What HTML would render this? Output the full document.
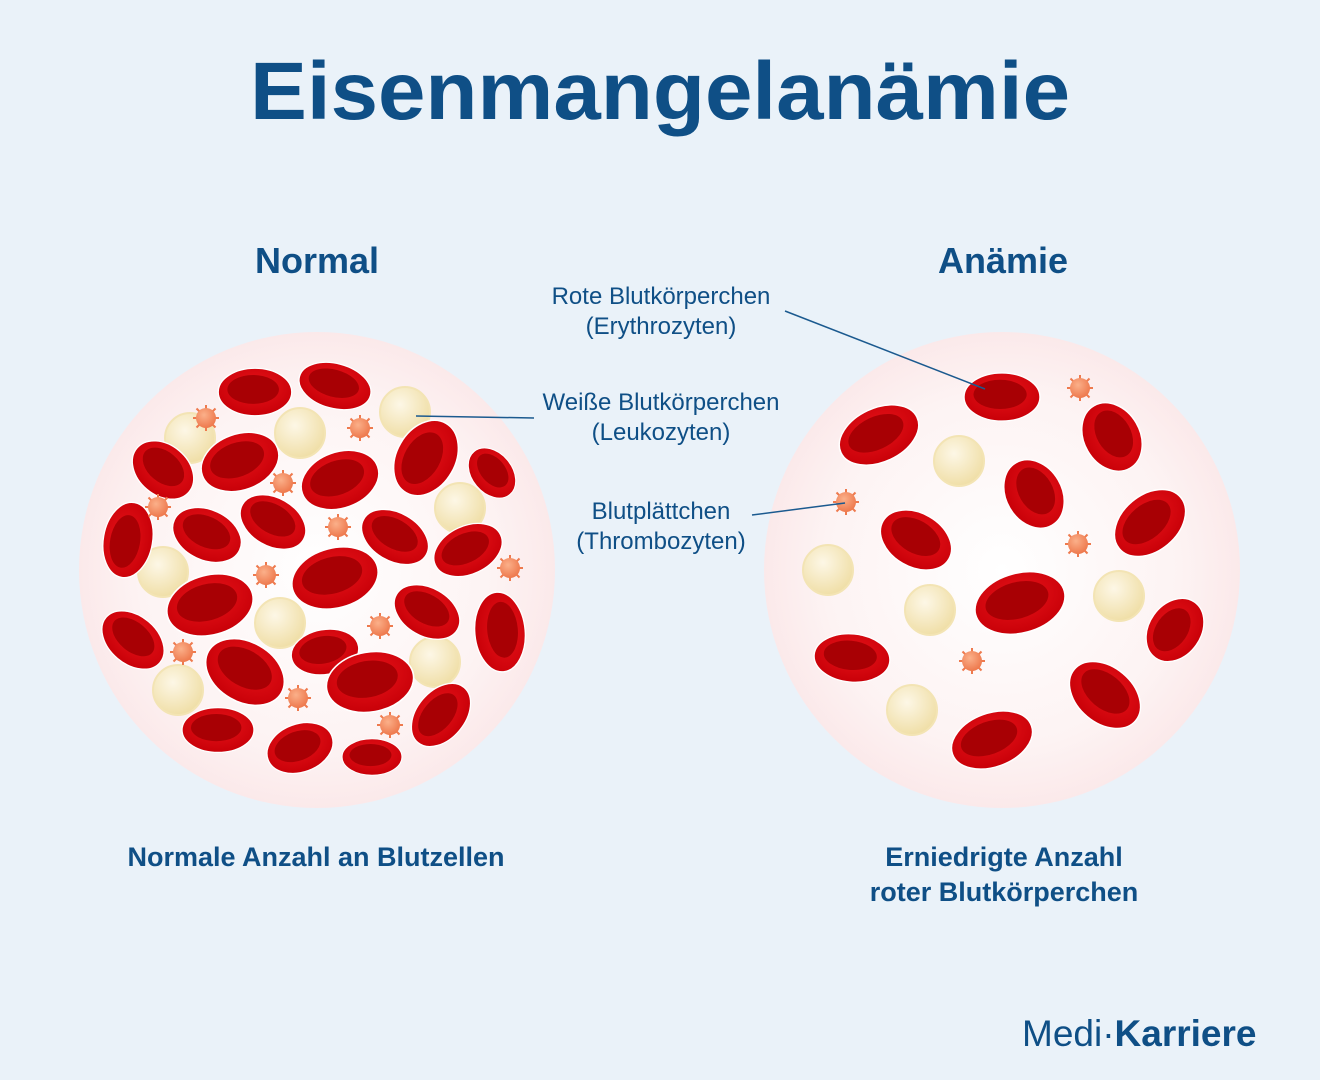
<!DOCTYPE html>
<html><head><meta charset="utf-8"><style>
body{margin:0;background:#eaf2f9;}
svg{display:block}
text{font-family:"Liberation Sans",sans-serif;fill:#0f4f86}
</style></head><body>
<svg width="1320" height="1080" viewBox="0 0 1320 1080" xmlns="http://www.w3.org/2000/svg">
<defs>
<radialGradient id="bg" cx="50%" cy="50%" r="50%"><stop offset="0" stop-color="#ffffff"/><stop offset="0.75" stop-color="#fdf3f3"/><stop offset="1" stop-color="#fbe9ea"/></radialGradient>
<radialGradient id="rb" cx="50%" cy="40%" r="60%"><stop offset="0" stop-color="#e8141a"/><stop offset="1" stop-color="#c80008"/></radialGradient>
<radialGradient id="wb" cx="40%" cy="35%" r="65%"><stop offset="0" stop-color="#fdf7e6"/><stop offset="1" stop-color="#f0dfa8"/></radialGradient>
<radialGradient id="pl" cx="40%" cy="35%" r="65%"><stop offset="0" stop-color="#fbb08a"/><stop offset="1" stop-color="#ee7a4e"/></radialGradient>
<g id="r"><ellipse rx="40" ry="28" fill="url(#rb)" stroke="#fff" stroke-width="1.5"/><ellipse cx="-2" cy="-3" rx="28" ry="17" fill="#a80004"/></g>
<g id="w"><circle r="25" fill="url(#wb)" stroke="#f3e4b4" stroke-width="2"/></g>
<g id="p"><g stroke="#ee7a4e" stroke-width="2"><line x1="-13" y1="0" x2="13" y2="0"/><line x1="0" y1="-13" x2="0" y2="13"/><line x1="-9.5" y1="-9.5" x2="9.5" y2="9.5"/><line x1="-9.5" y1="9.5" x2="9.5" y2="-9.5"/></g><circle r="10" fill="url(#pl)"/></g>
</defs>
<text x="660" y="119" text-anchor="middle" font-size="82" font-weight="bold" textLength="820" lengthAdjust="spacingAndGlyphs">Eisenmangelanämie</text>
<text x="317" y="273" text-anchor="middle" font-size="36" font-weight="bold">Normal</text>
<text x="1003" y="273" text-anchor="middle" font-size="36" font-weight="bold">Anämie</text>
<circle cx="317" cy="570" r="238" fill="url(#bg)"/>
<circle cx="1002" cy="570" r="238" fill="url(#bg)"/>
<g>
<use href="#w" x="405" y="412"/><use href="#w" x="300" y="433"/><use href="#w" x="190" y="438"/><use href="#w" x="460" y="508"/><use href="#w" x="163" y="572"/><use href="#w" x="280" y="623"/><use href="#w" x="435" y="662"/><use href="#w" x="178" y="690"/>
</g>
<g>
<use href="#r" transform="translate(255,392) scale(0.92,0.85)"/>
<use href="#r" transform="translate(335,386) rotate(15) scale(0.92,0.8)"/>
<use href="#r" transform="translate(163,470) rotate(40) scale(0.85,0.9)"/>
<use href="#r" transform="translate(240,462) rotate(-20)"/>
<use href="#r" transform="translate(340,480) rotate(-20)"/>
<use href="#r" transform="translate(426,458) rotate(-60) scale(1,1.05)"/>
<use href="#r" transform="translate(492,473) rotate(50) scale(0.7,0.72)"/>
<use href="#r" transform="translate(128,540) rotate(-80) scale(0.95,0.88)"/>
<use href="#r" transform="translate(207,535) rotate(25) scale(0.9,0.9)"/>
<use href="#r" transform="translate(273,522) rotate(30) scale(0.88,0.86)"/>
<use href="#r" transform="translate(395,537) rotate(30) scale(0.9,0.86)"/>
<use href="#r" transform="translate(468,550) rotate(-25) scale(0.9,0.86)"/>
<use href="#r" transform="translate(335,578) rotate(-15) scale(1.1,1.07)"/>
<use href="#r" transform="translate(210,605) rotate(-15) scale(1.1,1.07)"/>
<use href="#r" transform="translate(500,632) rotate(85) scale(1,0.9)"/>
<use href="#r" transform="translate(427,612) rotate(30) scale(0.88,0.86)"/>
<use href="#r" transform="translate(133,640) rotate(40) scale(0.88,0.86)"/>
<use href="#r" transform="translate(245,672) rotate(30) scale(1.05,1.07)"/>
<use href="#r" transform="translate(325,652) rotate(-10) scale(0.85,0.8)"/>
<use href="#r" transform="translate(370,682) rotate(-10) scale(1.1,1.07)"/>
<use href="#r" transform="translate(441,715) rotate(-50) scale(0.9,0.86)"/>
<use href="#r" transform="translate(218,730) scale(0.9,0.8)"/>
<use href="#r" transform="translate(300,748) rotate(-20) scale(0.85,0.86)"/>
<use href="#r" transform="translate(372,757) scale(0.75,0.65)"/>
</g>
<g>
<use href="#p" x="206" y="418"/><use href="#p" x="360" y="428"/><use href="#p" x="283" y="483"/><use href="#p" x="158" y="507"/><use href="#p" x="338" y="527"/><use href="#p" x="266" y="575"/><use href="#p" x="510" y="568"/><use href="#p" x="380" y="626"/><use href="#p" x="183" y="652"/><use href="#p" x="298" y="698"/><use href="#p" x="390" y="725"/>
</g>
<g>
<use href="#w" x="959" y="461"/><use href="#w" x="828" y="570"/><use href="#w" x="930" y="610"/><use href="#w" x="1119" y="596"/><use href="#w" x="912" y="710"/>
<use href="#r" transform="translate(1002,397) scale(0.95,0.86)"/>
<use href="#r" transform="translate(879,435) rotate(-25) scale(1.05,0.96)"/>
<use href="#r" transform="translate(1112,437) rotate(60) scale(0.9,1)"/>
<use href="#r" transform="translate(1034,494) rotate(60) scale(0.9,1)"/>
<use href="#r" transform="translate(1150,523) rotate(-40) scale(1,1)"/>
<use href="#r" transform="translate(916,540) rotate(30) scale(0.95,0.96)"/>
<use href="#r" transform="translate(1020,603) rotate(-15) scale(1.15,1.07)"/>
<use href="#r" transform="translate(1175,630) rotate(-55) scale(0.85,0.93)"/>
<use href="#r" transform="translate(852,658) rotate(5) scale(0.95,0.86)"/>
<use href="#r" transform="translate(1105,695) rotate(40) scale(1,1)"/>
<use href="#r" transform="translate(992,740) rotate(-20) scale(1.05,0.96)"/>
<use href="#p" x="1080" y="388"/><use href="#p" x="846" y="502"/><use href="#p" x="1078" y="544"/><use href="#p" x="972" y="661"/>
</g>
<g font-size="24" text-anchor="middle">
<text x="661" y="304">Rote Blutkörperchen</text>
<text x="661" y="334">(Erythrozyten)</text>
<text x="661" y="410">Weiße Blutkörperchen</text>
<text x="661" y="440">(Leukozyten)</text>
<text x="661" y="519">Blutplättchen</text>
<text x="661" y="549">(Thrombozyten)</text>
</g>
<g stroke="#1b5a8f" stroke-width="1.5">
<line x1="785" y1="311" x2="985" y2="389"/>
<line x1="416" y1="416" x2="534" y2="418"/>
<line x1="752" y1="515" x2="845" y2="503"/>
</g>
<g font-size="27" font-weight="bold" text-anchor="middle">
<text x="316" y="866">Normale Anzahl an Blutzellen</text>
<text x="1004" y="866">Erniedrigte Anzahl</text>
<text x="1004" y="901">roter Blutkörperchen</text>
</g>
<text x="1022" y="1046" font-size="37">Medi·<tspan font-weight="bold">Karriere</tspan></text>
</svg>
</body></html>
